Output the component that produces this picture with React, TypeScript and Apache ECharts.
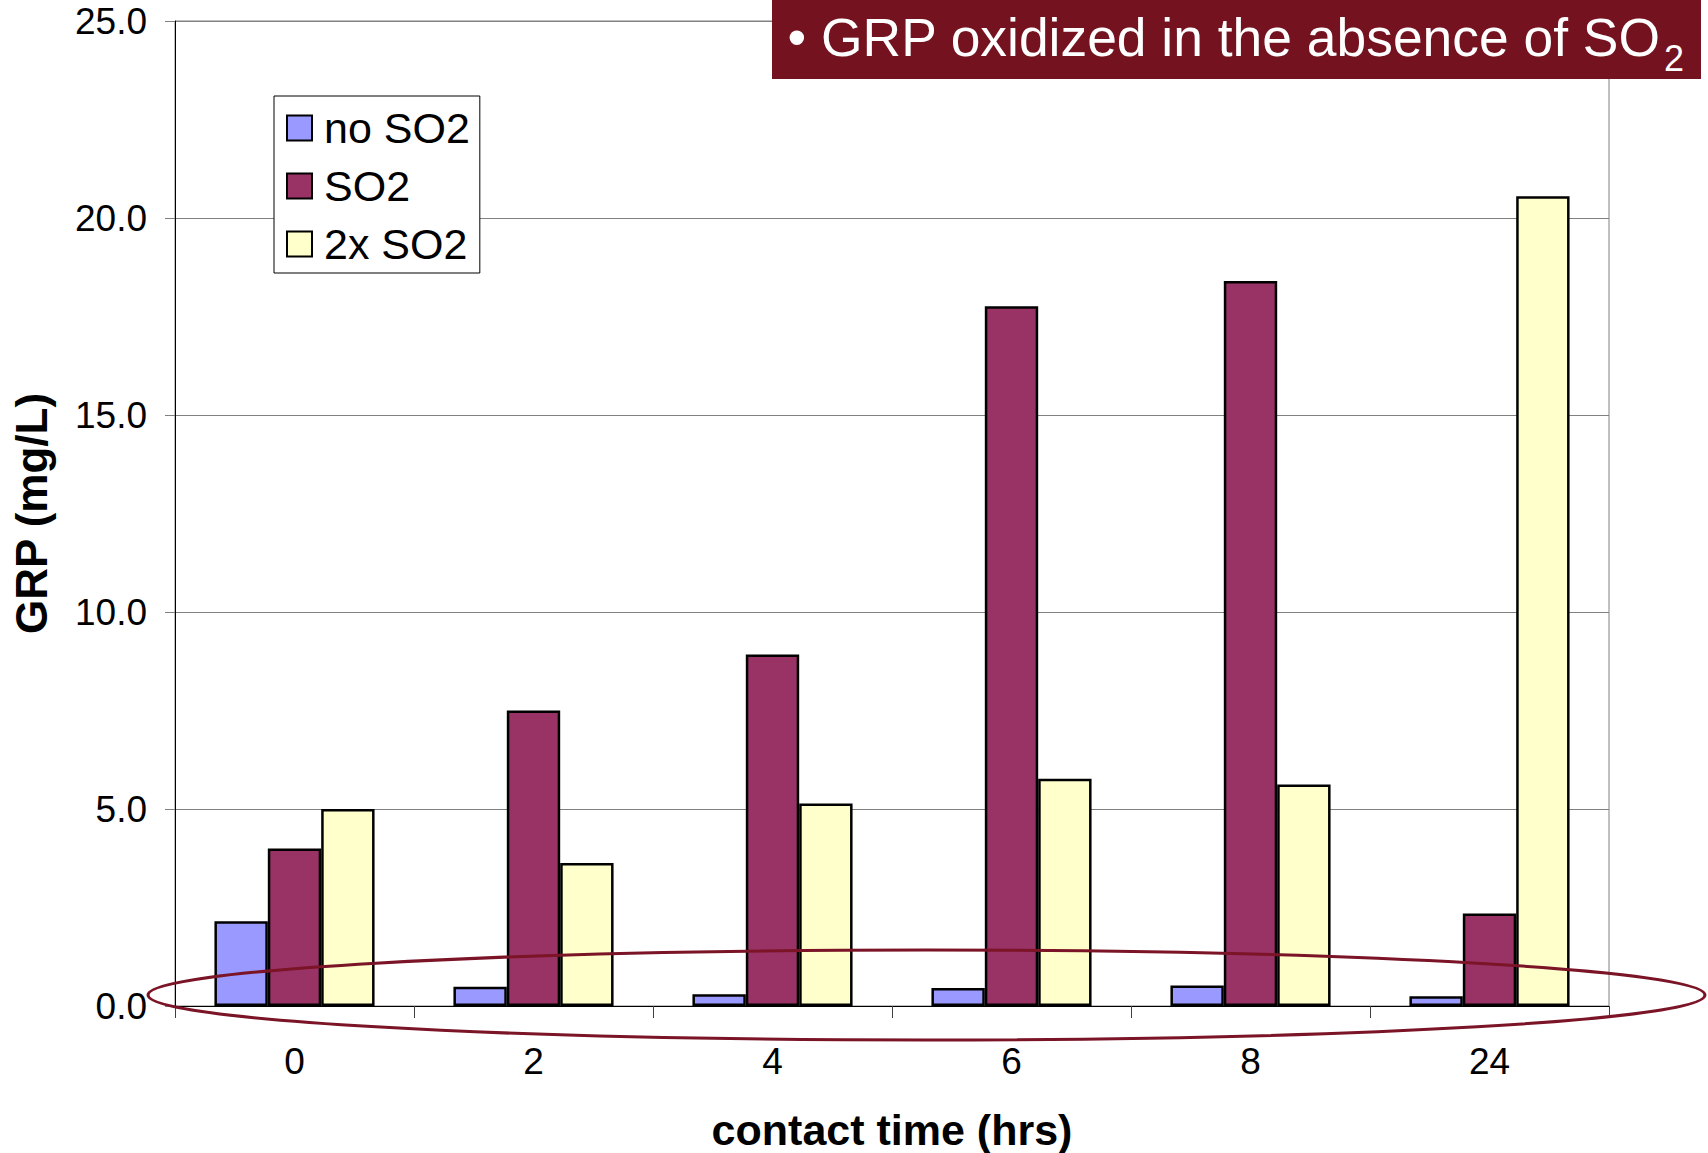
import React, { useEffect, useRef } from "react";
import * as echarts from "echarts";

// Contact time (hours) on the category axis
const contactTimes = ["0", "2", "4", "6", "8", "24"];

// GRP concentration (mg/L) per treatment
const seriesNames = ["no SO2", "SO2", "2x SO2"];
const noSO2 = [2.15, 0.49, 0.3, 0.46, 0.52, 0.25];
const withSO2 = [4.0, 7.5, 8.92, 17.76, 18.4, 2.35];
const doubleSO2 = [5.0, 3.63, 5.14, 5.77, 5.62, 20.55];

const seriesColors = ["#9999FF", "#993366", "#FFFFCC"];
const yTicks = [0, 5, 10, 15, 20, 25];

const FONT = "'Liberation Sans', Arial, Helvetica, sans-serif";

export default function App() {
  const ref = useRef<HTMLDivElement>(null);

  useEffect(() => {
    document.body.style.margin = "0";
    const chart = echarts.init(ref.current!, null, { renderer: "svg" });
    const values = [noSO2, withSO2, doubleSO2];

    chart.setOption({
      animation: false,
      backgroundColor: "#ffffff",
      textStyle: { fontFamily: FONT },
      grid: {
        left: 175,
        right: 99,
        top: 21,
        bottom: 147,
        containLabel: false,
        outerBoundsMode: "none",
        show: true,
        borderColor: "#808080",
        borderWidth: 1,
        backgroundColor: "transparent",
      },
      legend: {
        orient: "vertical",
        left: 274,
        top: 96,
        padding: [3, 10, 0, 12],
        itemWidth: 25,
        itemHeight: 25,
        itemGap: 0,
        backgroundColor: "#ffffff",
        borderColor: "#000000",
        borderWidth: 1,
        icon: "rect",
        itemStyle: { borderColor: "#000000", borderWidth: 2 },
        textStyle: {
          fontFamily: FONT,
          fontSize: 43,
          color: "#000000",
          lineHeight: 58,
          padding: [0, 0, 0, 7],
        },
        data: seriesNames,
      },
      xAxis: {
        type: "category",
        data: contactTimes,
        name: "contact time (hrs)",
        nameLocation: "middle",
        nameGap: 102,
        nameTextStyle: {
          fontFamily: FONT,
          fontSize: 43,
          fontWeight: "bold",
          color: "#000000",
        },
        axisLine: { lineStyle: { color: "#000000", width: 1 } },
        axisTick: {
          show: true,
          alignWithLabel: false,
          inside: false,
          length: 12,
          lineStyle: { color: "#404040", width: 1 },
        },
        axisLabel: {
          fontFamily: FONT,
          fontSize: 37,
          color: "#000000",
          margin: 37,
        },
      },
      yAxis: {
        type: "value",
        min: yTicks[0],
        max: yTicks[yTicks.length - 1],
        interval: 5,
        name: "GRP (mg/L)",
        nameLocation: "middle",
        nameGap: 122,
        nameTextStyle: {
          fontFamily: FONT,
          fontSize: 44,
          fontWeight: "bold",
          color: "#000000",
        },
        axisLine: { show: true, lineStyle: { color: "#000000", width: 1 } },
        axisTick: {
          show: true,
          inside: false,
          length: 10,
          lineStyle: { color: "#808080", width: 1 },
        },
        splitLine: { show: true, lineStyle: { color: "#808080", width: 1 } },
        axisLabel: {
          fontFamily: FONT,
          fontSize: 37,
          color: "#000000",
          margin: 28,
          formatter: (v: number) => v.toFixed(1),
        },
      },
      series: seriesNames.map((name, i) => ({
        name,
        type: "bar",
        data: values[i],
        barGap: "0%",
        barCategoryGap: "33%",
        itemStyle: {
          color: seriesColors[i],
          borderColor: "#000000",
          borderWidth: 2.5,
        },
      })),
      graphic: [
        {
          type: "rect",
          z: 100,
          shape: { x: 772, y: 0, width: 929, height: 79 },
          style: { fill: "#74131F" },
        },
        {
          type: "text",
          z: 101,
          x: 1660,
          y: 37,
          style: {
            text: "\u2022 GRP oxidized in the absence of SO",
            fill: "#ffffff",
            fontFamily: FONT,
            fontSize: 53.4,
            align: "right",
            verticalAlign: "middle",
          },
        },
        {
          type: "text",
          z: 101,
          x: 1664,
          y: 58,
          style: {
            text: "2",
            fill: "#ffffff",
            fontFamily: FONT,
            fontSize: 36,
            align: "left",
            verticalAlign: "middle",
          },
        },
        {
          type: "ellipse",
          z: 100,
          shape: { cx: 926.5, cy: 995, rx: 778.5, ry: 45 },
          style: { fill: "none", stroke: "#7A1426", lineWidth: 3 },
        },
      ],
    });

    return () => chart.dispose();
  }, []);

  return (
    <div
      ref={ref}
      style={{ position: "absolute", left: 0, top: 0, width: 1708, height: 1153 }}
    />
  );
}
